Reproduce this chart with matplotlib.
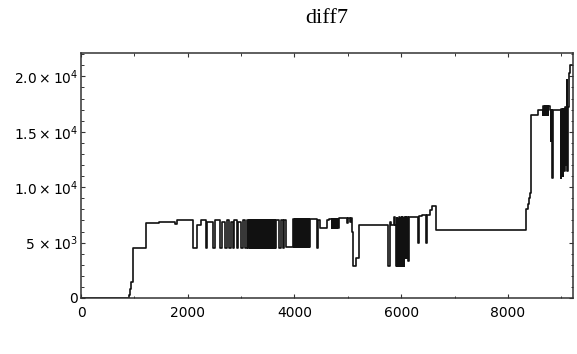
import matplotlib
matplotlib.use("Agg")
import matplotlib.pyplot as plt
from matplotlib.ticker import MultipleLocator, FixedLocator

# ------------------------------------------------------------
# data (step curve, steps-post)
# ------------------------------------------------------------
part1_x = [0, 905, 925, 945, 970, 1210, 1225, 1460, 1760, 1790,
           2090, 2180, 2240, 2340, 2360, 2480, 2510, 2605, 2636, 2698,
           2730, 2780, 2805, 2855, 2870, 2918, 2948, 2993, 3030, 3074, 3105]
part1_y = [0, 250, 800, 1400, 4500, 6100, 6800, 6900, 6700, 7000,
           4500, 6600, 7000, 4500, 6900, 4500, 7000, 4500, 6900, 4500,
           7000, 4500, 6900, 4500, 7000, 4500, 6900, 4500, 7000, 4500, 7000]

dense1_x = [3136, 3148, 3160, 3172, 3184, 3196, 3208, 3220, 3232, 3244,
            3256, 3268, 3280, 3292, 3304, 3316, 3328, 3340, 3352, 3364,
            3376, 3388, 3400, 3412, 3424, 3436, 3448, 3460, 3472, 3484,
            3496, 3508, 3520, 3532, 3544, 3556, 3568, 3580, 3592, 3604,
            3616, 3628, 3640, 3652]
dense1_y = [4500, 7000, 4500, 7000, 4500, 7000, 4500, 7000, 4500, 7000,
            4500, 7000, 4500, 7000, 4500, 7000, 4500, 7000, 4500, 7000,
            4500, 7000, 4500, 7000, 4500, 7000, 4500, 7000, 4500, 7000,
            4500, 7000, 4500, 7000, 4500, 7000, 4500, 7000, 4500, 7000,
            4500, 7000, 4500, 7000]

part2_x = [3720, 3745, 3790, 3810, 3842]
part2_y = [4500, 7000, 4500, 7000, 4600]

dense2_x = [3980, 3992, 4004, 4016, 4028, 4040, 4052, 4064, 4076, 4088,
            4100, 4112, 4124, 4136, 4148, 4160, 4172, 4184, 4196, 4208,
            4220, 4232, 4244, 4256, 4268, 4280]
dense2_y = [7100, 4600, 7100, 4600, 7100, 4600, 7100, 4600, 7100, 4600,
            7100, 4600, 7100, 4600, 7100, 4600, 7100, 4600, 7100, 4600,
            7100, 4600, 7100, 4600, 7100, 4600]

part3_x = [4292, 4417, 4440, 4480, 4604, 4640]
part3_y = [7100, 4500, 7000, 6300, 7000, 7100]

dense3_x = [4698, 4710, 4722, 4734, 4746, 4758, 4770, 4782, 4794, 4806,
            4818]
dense3_y = [6300, 7100, 6300, 7100, 6300, 7100, 6300, 7100, 6300, 7100,
            6300]

part4_x = [4830, 4980, 5010, 5040, 5060, 5075, 5090, 5153, 5215,
           5759, 5790, 5810, 5870, 5885]
part4_y = [7200, 6800, 7200, 6900, 7250, 6000, 2900, 3600, 6600,
           2900, 6900, 6600, 7300, 6600]

dense4_x = [5903, 5915, 5927, 5939, 5951, 5963, 5975, 5987, 5999, 6011,
            6023, 6035, 6047, 6059, 6071, 6083, 6095, 6107]
dense4_y = [2900, 7200, 2900, 7100, 2900, 7300, 2900, 7200, 2900, 7300,
            2900, 7200, 2900, 7300, 3600, 7300, 3600, 7300]

part5_x = [6120, 6140, 6166, 6322, 6340, 6400, 6466, 6485, 6540, 6580, 6653,
           8340, 8370, 8395, 8420, 8440, 8560,
           8652, 8664, 8676, 8688, 8700, 8712, 8724, 8736, 8748, 8760, 8790,
           8800, 8815, 8835, 8850,
           8990, 9005, 9025, 9040, 9060, 9075, 9090, 9100, 9115, 9135,
           9150, 9170, 9210]
part5_y = [3350, 7300, 7300, 5000, 7400, 7500, 5000, 7500, 7900, 8260, 6100,
           8000, 8500, 9000, 9470, 16470, 17000,
           16500, 17300, 16500, 17300, 16500, 17300, 16500, 17300, 16500,
           17300, 17000,
           14200, 17000, 10830, 17000,
           10830, 17100, 11000, 17100, 11500, 17200, 12000, 19700, 11500,
           17200, 20300, 21000, 21000]

step_x = part1_x + dense1_x + part2_x + dense2_x + part3_x + dense3_x \
    + part4_x + dense4_x + part5_x
step_y = part1_y + dense1_y + part2_y + dense2_y + part3_y + dense3_y \
    + part4_y + dense4_y + part5_y

x_major = [0, 2000, 4000, 6000, 8000]
x_labels = ["0", "2000", "4000", "6000", "8000"]
y_major = [0, 5000, 10000, 15000, 20000]
y_labels = ["0", r"$5\,\times 10^3$", r"$1.0\times 10^4$",
            r"$1.5\times 10^4$", r"$2.0\times 10^4$"]

plt.rcParams.update({
    "font.family": "DejaVu Sans",
    "mathtext.fontset": "dejavusans",
    "xtick.direction": "in",
    "ytick.direction": "in",
})

fig = plt.figure(figsize=(5.77, 3.54), dpi=100)
ax = fig.add_axes([0.1404, 0.1582, 0.8526, 0.6918])

ax.plot(step_x, step_y, drawstyle="steps-post", color="#111111",
        linewidth=1.2)

ax.set_xlim(0, 9220)
ax.set_ylim(0, 22100)

ax.xaxis.set_major_locator(FixedLocator(x_major))
ax.set_xticklabels(x_labels)
ax.xaxis.set_minor_locator(MultipleLocator(1000))
ax.yaxis.set_major_locator(FixedLocator(y_major))
ax.set_yticklabels(y_labels)
ax.yaxis.set_minor_locator(MultipleLocator(1000))

ax.tick_params(which="both", top=True, right=True, color="#333333")
ax.tick_params(which="major", length=3.2, width=0.8, labelsize=10)
ax.tick_params(which="minor", length=1.8, width=0.7)
ax.tick_params(axis="x", pad=6)
ax.tick_params(axis="y", pad=2)

for sp in ax.spines.values():
    sp.set_linewidth(1.1)
    sp.set_color("#333333")

fig.text(0.567, 0.948, "diff7", ha="center", va="center",
         fontsize=16, family="Liberation Serif")

fig.savefig("out.png", dpi=100)
